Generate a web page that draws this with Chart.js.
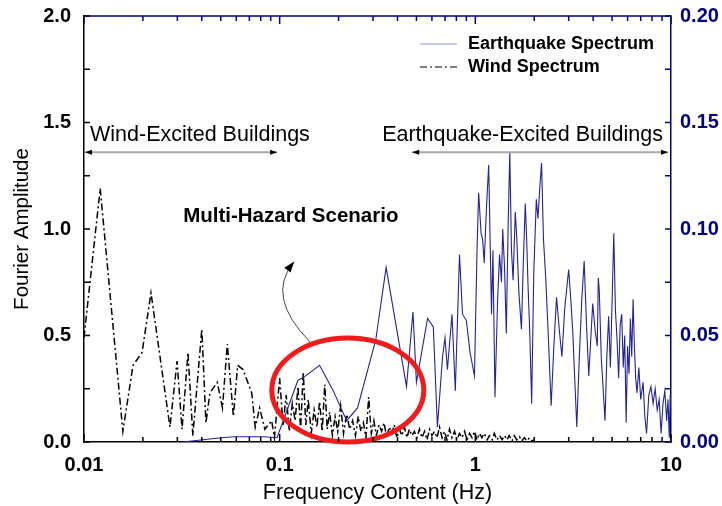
<!DOCTYPE html>
<html>
<head>
<meta charset="utf-8">
<script src="https://cdn.jsdelivr.net/npm/chart.js@4"></script>
<style>
  body { margin: 0; background: #fff; }
  canvas { display: block; }
</style>
</head>
<body>
<canvas id="spec" width="722" height="506"></canvas>
<script>
// Wind vs earthquake Fourier spectra (multi-hazard)
const FONT = "'Liberation Sans', Arial, sans-serif";
const NAVY = '#000080';

const xTickValues = [0.01, 0.1, 1, 10];
const xTickLabels = ['0.01', '0.1', '1', '10'];
const leftTicks = [0, 0.5, 1.0, 1.5, 2.0];
const rightTicks = [0, 0.05, 0.10, 0.15, 0.20];

// wind spectrum (left axis)
const windFreq = [
  0.0100, 0.0121, 0.0158, 0.0178, 0.0198, 0.0220, 0.0275, 0.0299, 0.0317, 0.0340,
  0.0360, 0.0400, 0.0420, 0.0440, 0.0480, 0.0510, 0.0540, 0.0580, 0.0610, 0.0650,
  0.0720, 0.0750, 0.0790, 0.0840, 0.0910, 0.0940,
  0.100, 0.104, 0.108, 0.112, 0.116, 0.120, 0.124, 0.128, 0.132, 0.136,
  0.140, 0.145, 0.150, 0.155, 0.160, 0.165, 0.170, 0.175, 0.180, 0.186,
  0.192, 0.198, 0.205, 0.212, 0.220, 0.228, 0.236, 0.244, 0.252, 0.260,
  0.268, 0.276, 0.285, 0.294, 0.303, 0.312, 0.322, 0.332, 0.342, 0.352,
  0.363, 0.374, 0.385, 0.397, 0.409, 0.421, 0.434, 0.447, 0.460, 0.474,
  0.488, 0.503, 0.518, 0.534, 0.550, 0.566, 0.583, 0.600, 0.618, 0.637,
  0.656, 0.676, 0.696, 0.717, 0.738, 0.760, 0.783, 0.806, 0.830, 0.855,
  0.881, 0.907, 0.934, 0.962, 0.991, 1.02, 1.05, 1.08, 1.11, 1.15,
  1.18, 1.22, 1.25, 1.29, 1.33, 1.37, 1.41, 1.45, 1.49, 1.54,
  1.58, 1.63, 1.68, 1.73, 1.78, 1.84, 1.89, 1.95, 2.00
];
const windAmp = [
  0.49, 1.19, 0.05, 0.36, 0.42, 0.70, 0.07, 0.38, 0.06, 0.42,
  0.03, 0.53, 0.09, 0.23, 0.28, 0.16, 0.46, 0.12, 0.36, 0.34,
  0.23, 0.07, 0.16, 0.06, 0.10, 0.02,
  0.30, 0.08, 0.22, 0.05, 0.18, 0.10, 0.26, 0.06, 0.33, 0.08,
  0.20, 0.04, 0.15, 0.07, 0.19, 0.05, 0.27, 0.06, 0.14, 0.03,
  0.12, 0.05, 0.17, 0.04, 0.13, 0.06, 0.10, 0.03, 0.12, 0.05,
  0.09, 0.02, 0.21, 0.04, 0.10, 0.03, 0.08, 0.05, 0.09, 0.02,
  0.07, 0.04, 0.08, 0.02, 0.06, 0.03, 0.07, 0.02, 0.06, 0.03,
  0.05, 0.02, 0.06, 0.02, 0.05, 0.01, 0.06, 0.03, 0.05, 0.02,
  0.07, 0.02, 0.05, 0.01, 0.06, 0.02, 0.05, 0.01, 0.04, 0.02,
  0.05, 0.01, 0.04, 0.02, 0.05, 0.01, 0.04, 0.02, 0.04, 0.01,
  0.03, 0.01, 0.04, 0.01, 0.03, 0.01, 0.03, 0.01, 0.03, 0.005,
  0.03, 0.01, 0.025, 0.005, 0.02, 0.005, 0.02, 0.005, 0.01
];

// earthquake spectrum (right axis)
const eqFreq = [
  0.032, 0.045, 0.058, 0.084, 0.097, 0.124, 0.131, 0.160, 0.188, 0.220,
  0.250, 0.310, 0.350, 0.445, 0.480, 0.500, 0.570, 0.610, 0.640, 0.680,
  0.700, 0.720, 0.760, 0.790, 0.830, 0.860, 0.900, 0.940, 0.990, 1.02,
  1.04, 1.07, 1.09, 1.11, 1.14, 1.17, 1.21, 1.23, 1.26, 1.30,
  1.33, 1.36, 1.38, 1.41, 1.44, 1.47, 1.50, 1.53, 1.56, 1.60,
  1.63, 1.67, 1.72, 1.76, 1.80, 1.83, 1.86, 1.90, 1.94, 1.99,
  2.05, 2.09, 2.13, 2.18, 2.23, 2.29, 2.36, 2.44, 2.52, 2.60,
  2.69, 2.77, 2.86, 2.93, 3.00, 3.08, 3.15, 3.22, 3.30, 3.40,
  3.50, 3.60, 3.70, 3.80, 3.90, 3.98, 4.10, 4.20, 4.25, 4.30,
  4.40, 4.50, 4.60, 4.70, 4.80, 4.90, 5.00, 5.10, 5.20, 5.30,
  5.40, 5.50, 5.60, 5.70, 5.80, 5.90, 6.00, 6.10, 6.20, 6.30,
  6.40, 6.50, 6.60, 6.70, 6.85, 7.00, 7.20, 7.35, 7.50, 7.70,
  7.90, 8.10, 8.30, 8.50, 8.70, 8.90, 9.10, 9.30, 9.50, 9.65,
  9.80, 9.90, 10.0
];
const eqAmp = [
  0.000, 0.0015, 0.0025, 0.0025, 0.002, 0.029, 0.030, 0.036, 0.024, 0.010,
  0.016, 0.048, 0.082, 0.026, 0.061, 0.028, 0.058, 0.054, 0.007, 0.040,
  0.049, 0.034, 0.060, 0.024, 0.088, 0.060, 0.057, 0.042, 0.031, 0.090,
  0.117, 0.098, 0.095, 0.084, 0.110, 0.130, 0.060, 0.090, 0.021, 0.067,
  0.088, 0.075, 0.100, 0.082, 0.051, 0.100, 0.136, 0.090, 0.076, 0.108,
  0.095, 0.070, 0.053, 0.085, 0.112, 0.095, 0.073, 0.050, 0.018, 0.080,
  0.114, 0.105, 0.118, 0.131, 0.095, 0.077, 0.050, 0.017, 0.045, 0.068,
  0.052, 0.040, 0.062, 0.072, 0.081, 0.066, 0.051, 0.030, 0.007, 0.040,
  0.067, 0.085, 0.055, 0.031, 0.050, 0.065, 0.052, 0.045, 0.077, 0.071,
  0.040, 0.025, 0.010, 0.040, 0.059, 0.035, 0.066, 0.098, 0.062, 0.048,
  0.030, 0.055, 0.060, 0.035, 0.050, 0.009, 0.045, 0.032, 0.058, 0.040,
  0.067, 0.045, 0.030, 0.023, 0.035, 0.020, 0.028, 0.012, 0.004, 0.022,
  0.026, 0.018, 0.025, 0.015, 0.020, 0.004, 0.018, 0.024, 0.010, 0.020,
  0.002, 0.022, 0.016
];

const windDash = [7, 3, 2, 3];

// inward tick marks + top border
const tickMarks = {
  id: 'tickMarks',
  afterDraw(chart) {
    const { ctx, chartArea: a } = chart;
    const x = chart.scales.x, yl = chart.scales.y, yr = chart.scales.y2;
    ctx.save();
    ctx.lineWidth = 1.5;
    // top border
    ctx.strokeStyle = NAVY;
    ctx.beginPath(); ctx.moveTo(a.left, a.top); ctx.lineTo(a.right, a.top); ctx.stroke();
    for (let d = 0.01; d < 10.001; d *= 10) {
      for (let m = 1; m <= 9; m++) {
        const v = d * m;
        if (v > 10.0001) break;
        const px = x.getPixelForValue(v);
        const len = m === 1 ? 8 : 5;
        ctx.strokeStyle = '#000';
        ctx.beginPath(); ctx.moveTo(px, a.bottom); ctx.lineTo(px, a.bottom - len); ctx.stroke();
        ctx.strokeStyle = NAVY;
        ctx.beginPath(); ctx.moveTo(px, a.top); ctx.lineTo(px, a.top + len); ctx.stroke();
      }
    }
    for (let i = 0; i <= 8; i++) {
      const py = yl.getPixelForValue(i * 0.25);
      ctx.strokeStyle = '#000';
      ctx.beginPath(); ctx.moveTo(a.left, py); ctx.lineTo(a.left + 6, py); ctx.stroke();
      const qy = yr.getPixelForValue(i * 0.025);
      ctx.strokeStyle = NAVY;
      ctx.beginPath(); ctx.moveTo(a.right, qy); ctx.lineTo(a.right - 6, qy); ctx.stroke();
    }
    ctx.restore();
  }
};

function arrowHead(ctx, x, y, dir) {
  ctx.beginPath();
  ctx.moveTo(x, y);
  ctx.lineTo(x - dir * 7, y - 2.5);
  ctx.lineTo(x - dir * 7, y + 2.5);
  ctx.closePath();
  ctx.fill();
}

const notes = {
  id: 'notes',
  afterDatasetsDraw(chart) {
    const { ctx, chartArea: a } = chart;
    const x = chart.scales.x, y = chart.scales.y;
    ctx.save();

    // red ellipse around overlap zone
    ctx.strokeStyle = '#ee1c1c';
    ctx.lineWidth = 5;
    ctx.beginPath();
    ctx.ellipse(x.getPixelForValue(0.223), y.getPixelForValue(0.244), 76, 52, 0, 0, Math.PI * 2);
    ctx.stroke();

    // curved pointer
    const p0 = [x.getPixelForValue(0.143), y.getPixelForValue(0.47)];
    const p1 = [x.getPixelForValue(0.085), y.getPixelForValue(0.68)];
    const p2 = [x.getPixelForValue(0.117), y.getPixelForValue(0.84)];
    ctx.strokeStyle = '#444';
    ctx.lineWidth = 1;
    ctx.beginPath();
    ctx.moveTo(p0[0], p0[1]);
    ctx.quadraticCurveTo(p1[0], p1[1], p2[0], p2[1]);
    ctx.stroke();
    ctx.fillStyle = '#000';
    ctx.translate(p2[0], p2[1]);
    ctx.rotate(Math.atan2(p2[1] - p1[1], p2[0] - p1[0]));
    ctx.beginPath(); ctx.moveTo(2, 0); ctx.lineTo(-9, -4); ctx.lineTo(-9, 4); ctx.closePath(); ctx.fill();
    ctx.setTransform(1, 0, 0, 1, 0, 0);

    // range arrows
    const ay = y.getPixelForValue(1.36);
    const ranges = [[0.01, 0.097], [0.47, 10]];
    ranges.forEach(([f0, f1]) => {
      const xa = x.getPixelForValue(f0) + 1, xb = Math.min(x.getPixelForValue(f1), a.right - 3);
      ctx.strokeStyle = '#a8a8a8';
      ctx.lineWidth = 2;
      ctx.beginPath(); ctx.moveTo(xa, ay); ctx.lineTo(xb, ay); ctx.stroke();
      ctx.fillStyle = '#000';
      arrowHead(ctx, xa, ay, -1);
      arrowHead(ctx, xb, ay, 1);
    });

    ctx.fillStyle = '#000';
    ctx.font = '21.5px ' + FONT;
    ctx.textBaseline = 'alphabetic';
    ctx.textAlign = 'left';
    ctx.fillText('Wind-Excited Buildings', a.left + 6, ay - 11);
    ctx.textAlign = 'right';
    ctx.fillText('Earthquake-Excited Buildings', a.right - 8, ay - 11);

    ctx.font = 'bold 20.5px ' + FONT;
    ctx.textAlign = 'center';
    ctx.textBaseline = 'middle';
    ctx.fillText('Multi-Hazard Scenario', x.getPixelForValue(0.114), y.getPixelForValue(1.06));

    // legend
    const lx0 = 420, lx1 = 457;
    ctx.lineWidth = 1.2;
    ctx.strokeStyle = '#8f93d6';
    ctx.beginPath(); ctx.moveTo(lx0, 44); ctx.lineTo(lx1, 44); ctx.stroke();
    ctx.strokeStyle = '#000';
    ctx.setLineDash(windDash);
    ctx.beginPath(); ctx.moveTo(lx0, 67); ctx.lineTo(lx1, 67); ctx.stroke();
    ctx.setLineDash([]);
    ctx.font = 'bold 18px ' + FONT;
    ctx.textAlign = 'left';
    ctx.fillText('Earthquake Spectrum', 468, 44);
    ctx.fillText('Wind Spectrum', 468, 67);

    ctx.restore();
  }
};

// keep the plot box fixed regardless of label overhang
function fixVertical(w) {
  return s => { s.width = w; s.paddingTop = 0; s.paddingBottom = 0; };
}

new Chart(document.getElementById('spec'), {
  type: 'line',
  data: {
    datasets: [
      {
        label: 'Earthquake Spectrum',
        data: eqFreq.map((f, i) => ({ x: f, y: eqAmp[i] })),
        yAxisID: 'y2',
        borderColor: '#23239a',
        borderWidth: 1.1,
        pointRadius: 0,
        tension: 0
      },
      {
        label: 'Wind Spectrum',
        data: windFreq.map((f, i) => ({ x: f, y: windAmp[i] })),
        yAxisID: 'y',
        borderColor: '#000',
        borderWidth: 1.5,
        borderDash: windDash,
        pointRadius: 0,
        tension: 0
      }
    ]
  },
  options: {
    responsive: false,
    animation: false,
    layout: { padding: { top: 16, left: 0, right: 0, bottom: 0 } },
    plugins: { legend: { display: false }, tooltip: { enabled: false } },
    scales: {
      x: {
        type: 'logarithmic',
        position: 'bottom',
        min: 0.01,
        max: 10,
        afterBuildTicks: s => { s.ticks = xTickValues.map(v => ({ value: v })); },
        afterFit: s => { s.height = 64; s.paddingLeft = 0; s.paddingRight = 0; },
        ticks: {
          callback: (v, i) => xTickLabels[i],
          autoSkip: false,
          maxRotation: 0,
          padding: 11,
          color: '#000',
          font: { family: FONT, size: 20, weight: 'bold' }
        },
        grid: { display: false, drawTicks: false },
        border: { display: true, color: '#000', width: 1.5 },
        title: {
          display: true,
          text: 'Frequency Content (Hz)',
          color: '#000',
          font: { family: FONT, size: 21.5 },
          padding: { top: 0, bottom: 0 }
        }
      },
      y: {
        position: 'left',
        min: 0,
        max: 2,
        afterBuildTicks: s => { s.ticks = leftTicks.map(v => ({ value: v })); },
        afterFit: fixVertical(84),
        ticks: {
          callback: v => v.toFixed(1),
          padding: 13,
          color: '#000',
          font: { family: FONT, size: 20, weight: 'bold' }
        },
        grid: { display: false, drawTicks: false },
        border: { display: true, color: '#000', width: 1.5 },
        title: {
          display: true,
          text: 'Fourier Amplitude',
          color: '#000',
          font: { family: FONT, size: 20.5 },
          padding: { top: 10, bottom: 0 }
        }
      },
      y2: {
        position: 'right',
        min: 0,
        max: 0.2,
        afterBuildTicks: s => { s.ticks = rightTicks.map(v => ({ value: v })); },
        afterFit: fixVertical(51),
        ticks: {
          callback: v => v.toFixed(2),
          padding: 9,
          color: NAVY,
          font: { family: FONT, size: 20, weight: 'bold' }
        },
        grid: { display: false, drawTicks: false },
        border: { display: true, color: NAVY, width: 1.5 }
      }
    }
  },
  plugins: [tickMarks, notes]
});
</script>
</body>
</html>
